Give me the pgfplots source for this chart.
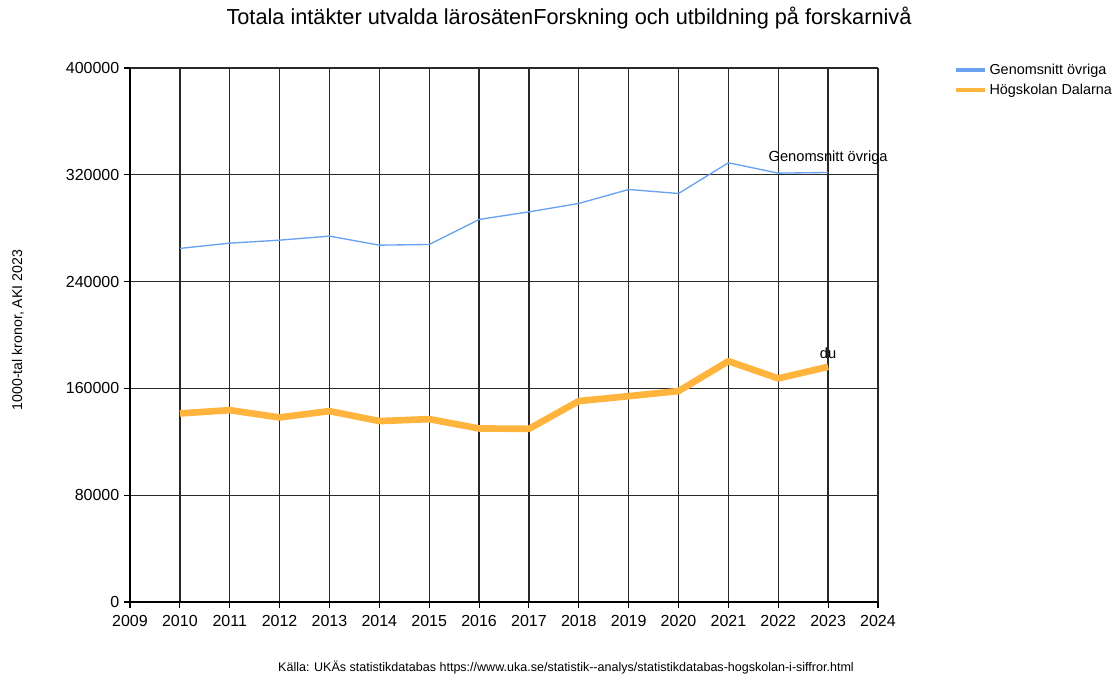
\documentclass[border=0pt]{standalone}
\usepackage{fontspec}
\setmainfont{Liberation Sans}
\usepackage{pgfplots}
\pgfplotsset{compat=1.18}

\definecolor{snittblue}{RGB}{104,162,240}
\definecolor{duorange}{RGB}{255,180,62}
\definecolor{gridgray}{RGB}{40,40,40}

\begin{document}
\begin{tikzpicture}
\useasboundingbox (-97.5pt,-57.75pt) rectangle (741pt,451.5pt);
\begin{axis}[
    at={(0pt,0pt)}, anchor=south west,
    scale only axis,
    width=561pt, height=400.5pt,
    xmin=2009, xmax=2024,
    ymin=0, ymax=400000,
    scaled ticks=false,
    xtick={2009,2010,2011,2012,2013,2014,2015,2016,2017,2018,2019,2020,2021,2022,2023,2024},
    xticklabels={2009,2010,2011,2012,2013,2014,2015,2016,2017,2018,2019,2020,2021,2022,2023,2024},
    ytick={0,80000,160000,240000,320000,400000},
    yticklabels={0,80000,160000,240000,320000,400000},
    tick label style={font=\fontsize{12}{14}\selectfont},
    xticklabel style={yshift=-2pt},
    grid=major,
    grid style={gridgray, line width=1pt},
    axis line style={black, line width=1pt},
    tick align=outside,
    major tick length=4.5pt,
    tick style={black, line width=0.8pt},
    axis x line*=bottom,
    axis y line*=left,
    legend style={at={(1.096,1.018)}, anchor=north west, draw=none, fill=none,
        font=\fontsize{10.8}{13}\selectfont, row sep=1.5pt},
    legend cell align=left,
    legend image code/.code={\draw[#1, line width=2.6pt] (0pt,0pt) -- (22pt,0pt);},
    clip=false,
]
\addplot[snittblue, line width=1pt] coordinates {
(2010,264850) (2011,268800) (2012,271050) (2013,274050) (2014,267300)
(2015,267800) (2016,286550) (2017,292250) (2018,298550) (2019,309000)
(2020,306000) (2021,329000) (2022,321250) (2023,321750)};
\addlegendentry{Genomsnitt övriga}
\addplot[duorange, line width=5pt, line join=round] coordinates {
(2010,141250) (2011,143700) (2012,138250) (2013,143000) (2014,135500)
(2015,137000) (2016,130000) (2017,129700) (2018,150500) (2019,154200)
(2020,158000) (2021,180400) (2022,167500) (2023,176200)};
\addlegendentry{Högskolan Dalarna}
\node[anchor=south, font=\fontsize{11}{13}\selectfont, inner sep=1pt, yshift=5pt] at (axis cs:2023,321750) {Genomsnitt övriga};
\node[anchor=south, font=\fontsize{11}{13}\selectfont, inner sep=1pt, yshift=5pt] at (axis cs:2023,176200) {du};
\end{axis}
\node[font=\fontsize{16.3}{19}\selectfont] at (329.25pt,438pt) {Totala intäkter utvalda lärosätenForskning och utbildning på forskarnivå};
\node[rotate=90, font=\fontsize{10.6}{12}\selectfont] at (-84pt,204pt) {1000-tal kronor, AKI 2023};
\node[font=\fontsize{9.4}{11}\selectfont] at (327pt,-49.5pt) {Källa: UKÄs statistikdatabas https://www.uka.se/statistik-{}-analys/statistikdatabas-hogskolan-i-siffror.html};
\end{tikzpicture}
\end{document}
